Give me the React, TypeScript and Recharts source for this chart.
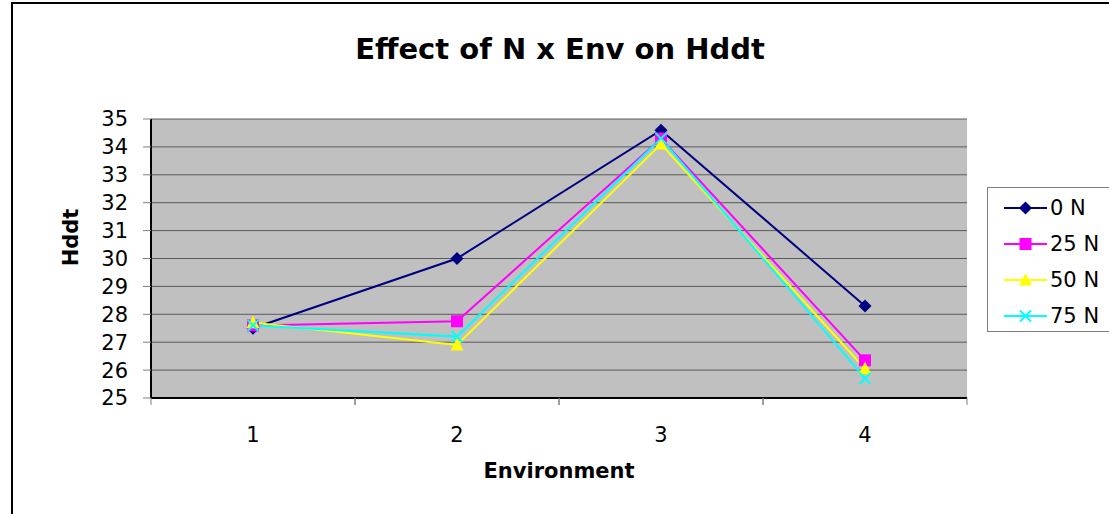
import React from 'react';
import { LineChart, Line, XAxis, YAxis, CartesianGrid, Legend } from 'recharts';

const environments = ['1', '2', '3', '4'];
const n0 = [27.5, 30.0, 34.6, 28.3];
const n25 = [27.6, 27.75, 34.3, 26.35];
const n50 = [27.7, 26.9, 34.1, 26.05];
const n75 = [27.6, 27.2, 34.3, 25.7];
const yTicks = [25, 26, 27, 28, 29, 30, 31, 32, 33, 34, 35];
const seriesNames = ['0 N', '25 N', '50 N', '75 N'];

const data = environments.map((env, i) => ({
  env,
  n0: n0[i],
  n25: n25[i],
  n50: n50[i],
  n75: n75[i],
}));

const W = 1109;
const H = 514;
const MARGIN = { top: 119, right: 142, bottom: 0, left: 0 };
const Y_W = 151;
const X_H = 116;
const BAND = (W - Y_W - MARGIN.right) / environments.length;
const FONT = '"DejaVu Sans", sans-serif';

const series = [
  { key: 'n0', name: seriesNames[0], color: '#000080', marker: 'diamond' },
  { key: 'n25', name: seriesNames[1], color: '#FF00FF', marker: 'square' },
  { key: 'n50', name: seriesNames[2], color: '#FFFF00', marker: 'triangle' },
  { key: 'n75', name: seriesNames[3], color: '#00FFFF', marker: 'x' },
];

function markerShape(kind: string, cx: number, cy: number, color: string, k?: any) {
  const r = 6.5;
  if (kind === 'diamond') {
    return <polygon key={k} points={`${cx},${cy - r} ${cx + r},${cy} ${cx},${cy + r} ${cx - r},${cy}`} fill={color} />;
  }
  if (kind === 'square') {
    return <rect key={k} x={cx - 6} y={cy - 6} width={12} height={12} fill={color} />;
  }
  if (kind === 'triangle') {
    return <polygon key={k} points={`${cx},${cy - 7} ${cx + 6.5},${cy + 5.5} ${cx - 6.5},${cy + 5.5}`} fill={color} />;
  }
  return (
    <g key={k}>
      <line x1={cx - 5.5} y1={cy - 5.5} x2={cx + 5.5} y2={cy + 5.5} stroke={color} strokeWidth={2} />
      <line x1={cx - 5.5} y1={cy + 5.5} x2={cx + 5.5} y2={cy - 5.5} stroke={color} strokeWidth={2} />
    </g>
  );
}

const XTick = (props: any) => {
  const { x, y, payload } = props;
  return (
    <g>
      <line x1={x - BAND / 2} y1={y} x2={x - BAND / 2} y2={y + 7} stroke="#808080" strokeWidth={1} />
      <line x1={x + BAND / 2} y1={y} x2={x + BAND / 2} y2={y + 7} stroke="#808080" strokeWidth={1} />
      <text x={x} y={y + 44} textAnchor="middle" fill="#000" fontSize={21} fontFamily={FONT}>
        {payload.value}
      </text>
    </g>
  );
};

const renderLegend = (props: any) => {
  const { payload } = props;
  return (
    <div
      style={{
        border: '1px solid #808080',
        width: 160,
        height: 145,
        boxSizing: 'border-box',
        background: '#fff',
        paddingTop: 2,
        fontFamily: FONT,
        fontSize: 21,
        color: '#000',
      }}
    >
      {payload.map((p: any, i: number) => {
        const s = series.find((q) => q.key === p.dataKey) || series[i];
        return (
          <div key={i} style={{ height: 36, display: 'flex', alignItems: 'center' }}>
            <svg width={62} height={36} style={{ display: 'block' }}>
              <line x1={16} y1={18} x2={59} y2={18} stroke={s.color} strokeWidth={2} />
              {markerShape(s.marker, 37.5, 18, s.color)}
            </svg>
            <span style={{ lineHeight: '36px', whiteSpace: 'nowrap' }}>{p.value}</span>
          </div>
        );
      })}
    </div>
  );
};

export default function App() {
  return (
    <div style={{ position: 'absolute', left: 0, top: 0, width: W, height: H, overflow: 'hidden', background: '#fff' }}>
      <div
        style={{
          position: 'absolute',
          left: 11,
          top: 2,
          width: 1200,
          height: 700,
          border: '2px solid #000',
        }}
      />
      <div
        style={{
          position: 'absolute',
          left: 0,
          top: 32,
          width: 1120,
          textAlign: 'center',
          fontFamily: FONT,
          fontWeight: 'bold',
          fontSize: 29,
          color: '#000',
        }}
      >
        Effect of N x Env on Hddt
      </div>
      <div style={{ position: 'absolute', left: 0, top: 0 }}>
        <LineChart width={W} height={H} data={data} margin={MARGIN}>
          <CartesianGrid vertical={false} horizontal stroke="#5a5a5a" fill="#C0C0C0" fillOpacity={1} />
          <XAxis
            dataKey="env"
            height={X_H}
            padding={{ left: BAND / 2, right: BAND / 2 }}
            tickLine={false}
            tickSize={0}
            tickMargin={0}
            axisLine={{ stroke: '#000', strokeWidth: 2 }}
            tick={<XTick />}
            interval={0}
            label={{
              content: (p: any) => {
                const vb = p.viewBox;
                return (
                  <text
                    x={vb.x + vb.width / 2}
                    y={vb.y + 80}
                    textAnchor="middle"
                    fontFamily={FONT}
                    fontWeight="bold"
                    fontSize={21}
                    fill="#000"
                  >
                    Environment
                  </text>
                );
              },
            }}
          />
          <XAxis xAxisId="top" dataKey="env" orientation="top" height={0} padding={{ left: BAND / 2, right: BAND / 2 }} tick={false} tickLine={false} axisLine={{ stroke: '#808080', strokeWidth: 2 }} />
          <YAxis
            width={Y_W}
            domain={[25, 35]}
            ticks={yTicks}
            interval={0}
            tickSize={8}
            tickMargin={15}
            tickLine={{ stroke: '#808080' }}
            axisLine={{ stroke: '#000', strokeWidth: 2 }}
            tick={{ fill: '#000', fontSize: 21, fontFamily: FONT }}
            label={{
              content: (p: any) => {
                const vb = p.viewBox;
                const lx = vb.x + 71;
                const ly = vb.y + vb.height / 2 - 21;
                return (
                  <text
                    x={lx}
                    y={ly}
                    transform={`rotate(-90 ${lx} ${ly})`}
                    textAnchor="middle"
                    dominantBaseline="central"
                    fontFamily={FONT}
                    fontWeight="bold"
                    fontSize={21}
                    fill="#000"
                  >
                    Hddt
                  </text>
                );
              },
            }}
          />
          <YAxis yAxisId="right" orientation="right" width={0} domain={[25, 35]} tick={false} tickLine={false} axisLine={{ stroke: '#808080', strokeWidth: 2 }} />
          <Legend
            layout="vertical"
            align="center"
            verticalAlign="middle"
            content={renderLegend}
            wrapperStyle={{ left: 987, top: 187, width: 160 }}
          />
          {series.map((s) => (
            <Line
              key={s.key}
              dataKey={s.key}
              name={s.name}
              stroke={s.color}
              strokeWidth={2}
              isAnimationActive={false}
              dot={(p: any) => markerShape(s.marker, p.cx, p.cy, s.color, `${s.key}-${p.index}`)}
              activeDot={false}
            />
          ))}
        </LineChart>
      </div>
    </div>
  );
}
